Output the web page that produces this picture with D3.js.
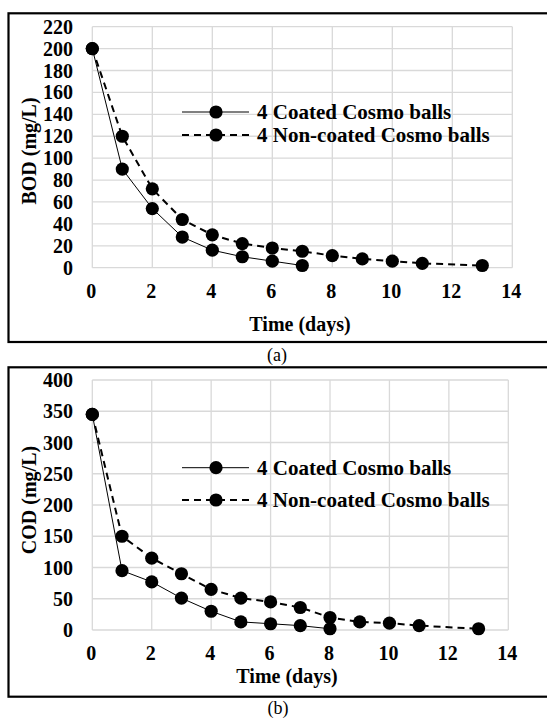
<!DOCTYPE html>
<html><head><meta charset="utf-8"><script src="https://cdn.jsdelivr.net/npm/d3@7"></script></head>
<body style="margin:0;background:#fff">
<script>
// data
let seriesNames = ['4 Coated Cosmo balls', '4 Non-coated Cosmo balls'];
let xTicks      = [0, 2, 4, 6, 8, 10, 12, 14];

let bodDaysCoated = [0, 1, 2, 3, 4, 5, 6, 7];
let bodCoated     = [200, 90, 54, 28, 16, 10, 6, 2];
let bodDaysNon    = [0, 1, 2, 3, 4, 5, 6, 7, 8, 9, 10, 11, 13];
let bodNon        = [200, 120, 72, 44, 30, 22, 18, 15, 11, 8, 6, 4, 2];
let bodTicks      = [0, 20, 40, 60, 80, 100, 120, 140, 160, 180, 200, 220];

let codDaysCoated = [0, 1, 2, 3, 4, 5, 6, 7, 8];
let codCoated     = [345, 95, 77, 51, 30, 13, 10, 7, 2];
let codDaysNon    = [0, 1, 2, 3, 4, 5, 6, 7, 8, 9, 10, 11, 13];
let codNon        = [345, 150, 115, 90, 65, 51, 45, 36, 20, 13, 11, 7, 2];
let codTicks      = [0, 50, 100, 150, 200, 250, 300, 350, 400];

let fontName = 'Liberation Serif';

let svg = d3.select('body').append('svg')
  .attr('width', 547)
  .attr('height', 718);

function drawPanel(p) {
  // outer frame (right side runs off the page)
  svg.append('rect')
    .attr('x', 8.5).attr('y', p.boxTop)
    .attr('width', 560).attr('height', p.boxH)
    .attr('fill', 'none').attr('stroke', '#000').attr('stroke-width', 2.2);

  let x = d3.scaleLinear().domain([0, 14]).range([p.left, p.right]);
  let y = d3.scaleLinear().domain([0, p.yMax]).range([p.bottom, p.top]);

  // grid
  svg.selectAll('.gx' + p.id).data(xTicks).enter().append('line')
    .attr('x1', d => x(d)).attr('x2', d => x(d))
    .attr('y1', p.top).attr('y2', p.bottom)
    .attr('stroke', '#d9d9d9').attr('stroke-width', 1.3);
  svg.selectAll('.gy' + p.id).data(p.yTicks).enter().append('line')
    .attr('x1', p.left).attr('x2', p.right)
    .attr('y1', d => y(d)).attr('y2', d => y(d))
    .attr('stroke', '#d9d9d9').attr('stroke-width', 1.3);

  // tick labels
  svg.selectAll('.ty' + p.id).data(p.yTicks).enter().append('text')
    .attr('x', 73).attr('y', d => y(d) + 7)
    .attr('text-anchor', 'end')
    .attr('font-family', fontName)
    .style('font-size', '20px').style('font-weight', 'bold')
    .text(d => d);
  svg.selectAll('.tx' + p.id).data(xTicks).enter().append('text')
    .attr('x', d => x(d) - 1).attr('y', p.bottom + 30)
    .attr('text-anchor', 'middle')
    .attr('font-family', fontName)
    .style('font-size', '20px').style('font-weight', 'bold')
    .text(d => d);

  // axis titles
  svg.append('text')
    .attr('x', p.xTitleX).attr('y', p.xTitleY)
    .attr('text-anchor', 'middle')
    .attr('font-family', fontName)
    .style('font-size', '20px').style('font-weight', 'bold')
    .text('Time (days)');
  svg.append('text')
    .attr('transform', 'translate(36,' + p.yTitleY + ') rotate(-90)')
    .attr('text-anchor', 'middle')
    .attr('font-family', fontName)
    .style('font-size', '20px').style('font-weight', 'bold')
    .text(p.yTitle);

  // series
  let line = d3.line().x(d => x(d[0])).y(d => y(d[1]));
  let sA = p.daysA.map((d, i) => [d, p.valsA[i]]);
  let sB = p.daysB.map((d, i) => [d, p.valsB[i]]);

  svg.append('path').datum(sB)
    .attr('d', line).attr('fill', 'none')
    .attr('stroke', '#000').attr('stroke-width', 2)
    .attr('stroke-dasharray', '7,5');
  svg.append('path').datum(sA)
    .attr('d', line).attr('fill', 'none')
    .attr('stroke', '#000').attr('stroke-width', 1);

  svg.selectAll('.mb' + p.id).data(sB).enter().append('circle')
    .attr('cx', d => x(d[0])).attr('cy', d => y(d[1])).attr('r', 6.6);
  svg.selectAll('.ma' + p.id).data(sA).enter().append('circle')
    .attr('cx', d => x(d[0])).attr('cy', d => y(d[1])).attr('r', 6.6);

  // legend
  seriesNames.forEach((name, i) => {
    let ly = p.legY + i * p.legStep;
    svg.append('line')
      .attr('x1', 182).attr('x2', 249).attr('y1', ly).attr('y2', ly)
      .attr('stroke', '#000')
      .attr('stroke-width', i == 0 ? 1 : 2)
      .attr('stroke-dasharray', i == 0 ? null : '7,5');
    svg.append('circle').attr('cx', 216).attr('cy', ly).attr('r', 6.6);
    svg.append('text')
      .attr('x', 257).attr('y', ly + 7)
      .attr('font-family', fontName)
      .style('font-size', '21px').style('font-weight', 'bold')
      .text(name);
  });

  // panel label
  svg.append('text')
    .attr('x', p.capX).attr('y', p.capY)
    .attr('text-anchor', 'middle')
    .attr('font-family', fontName)
    .style('font-size', '18px')
    .text(p.caption);
}

drawPanel({
  id: 'a',
  boxTop: 13.3, boxH: 328.7,
  left: 92.3, right: 512.3, top: 26.7, bottom: 267.7,
  yMax: 220, yTicks: bodTicks,
  yTitle: 'BOD (mg/L)', yTitleY: 151, xTitleX: 300, xTitleY: 331,
  daysA: bodDaysCoated, valsA: bodCoated,
  daysB: bodDaysNon, valsB: bodNon,
  legY: 112, legStep: 23,
  caption: '(a)', capX: 277, capY: 361
});

drawPanel({
  id: 'b',
  boxTop: 367.3, boxH: 329.4,
  left: 92.3, right: 508.3, top: 380, bottom: 630,
  yMax: 400, yTicks: codTicks,
  yTitle: 'COD (mg/L)', yTitleY: 500, xTitleX: 287, xTitleY: 683,
  daysA: codDaysCoated, valsA: codCoated,
  daysB: codDaysNon, valsB: codNon,
  legY: 467.7, legStep: 32.3,
  caption: '(b)', capX: 278, capY: 714
});
</script>
</body>
</html>
